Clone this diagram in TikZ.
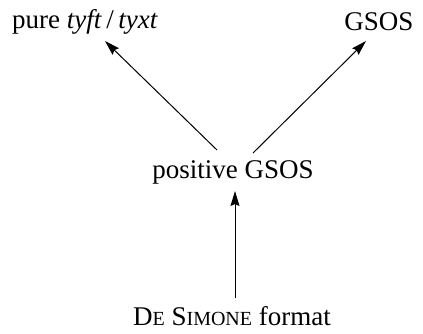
\documentclass[tikz,border=0pt]{standalone}
\usepackage{fontspec}
\setmainfont{Liberation Serif}
\usetikzlibrary{arrows.meta}
\begin{document}
\begin{tikzpicture}[x=1pt,y=-1pt,
  lbl/.style={inner sep=0pt,font=\fontsize{27}{30}\selectfont},
  arr/.style={line width=1pt,-{Stealth[length=15pt,width=9pt,inset=2pt]}}]
\useasboundingbox (0,0) rectangle (423,333);
\node[lbl] (pure) at (85,22) {pure \textit{tyft}\,/\,\textit{tyxt}};
\node[lbl] (gsos) at (379,22) {GSOS};
\node[lbl] (pos) at (233,172) {positive GSOS};
\node[lbl] (ds) at (232,316) {D{\fontsize{20}{22}\selectfont E} S{\fontsize{20}{22}\selectfont IMONE} format};
\coordinate (pl) at (217,150);
\coordinate (pr) at (253,153);
\coordinate (pt) at (235,191);
\coordinate (dst) at (235,298);
\coordinate (purebot) at (105,41);
\coordinate (gsosbot) at (366,41);
\draw[arr] (pl) -- (purebot);
\draw[arr] (pr) -- (gsosbot);
\draw[arr] (dst) -- (pt);
\end{tikzpicture}
\end{document}
